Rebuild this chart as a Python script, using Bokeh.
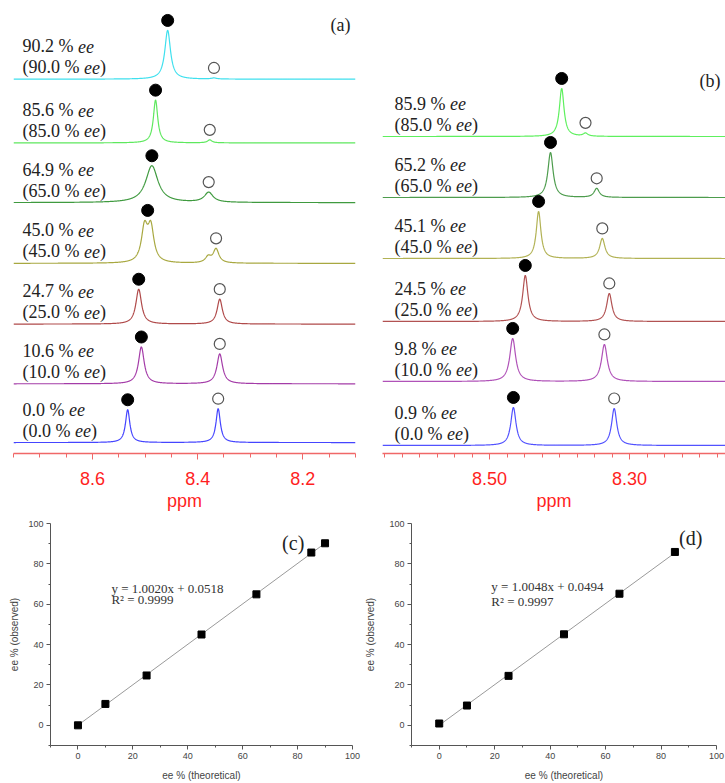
import numpy as np
from bokeh.plotting import figure
from bokeh.layouts import column, row
from bokeh.models import FixedTicker, Range1d, Label, ColumnDataSource, PrintfTickFormatter
from bokeh.embed import file_html
from bokeh.resources import INLINE
from bokeh.core.properties import value

# ---------------- data: panel (a) ----------------
a_observed = ["90.2", "85.6", "64.9", "45.0", "24.7", "10.6", "0.0"]
a_theoretical = ["90.0", "85.0", "65.0", "45.0", "25.0", "10.0", "0.0"]
a_major_ppm = [8.457, 8.480, 8.487, 8.495, 8.512, 8.507, 8.533]
a_major_height = [49, 43, 37, 34, 35, 37, 33]
a_major_width = [0.013, 0.010, 0.028, 0.014, 0.013, 0.013, 0.010]
a_major_split = [0, 0, 0, 0.012, 0, 0, 0]
a_minor_ppm = [8.369, 8.377, 8.379, 8.365, 8.358, 8.358, 8.361]
a_minor_height = [1, 3, 10, 14, 25, 30, 34]
a_minor_width = [0.012, 0.010, 0.020, 0.013, 0.012, 0.013, 0.010]
a_shoulder_ppm = [None, None, None, 8.380, None, None, None]
a_shoulder_height = [0, 0, 0, 6, 0, 0, 0]
a_ticks = [8.6, 8.4, 8.2]

# ---------------- data: panel (b) ----------------
b_observed = ["85.9", "65.2", "45.1", "24.5", "9.8", "0.9"]
b_theoretical = ["85.0", "65.0", "45.0", "25.0", "10.0", "0.0"]
b_major_ppm = [8.397, 8.413, 8.430, 8.449, 8.467, 8.466]
b_major_height = [48, 45, 47, 46, 43, 38]
b_major_width = [0.008, 0.009, 0.008, 0.009, 0.010, 0.009]
b_minor_ppm = [8.363, 8.347, 8.339, 8.329, 8.336, 8.322]
b_minor_height = [3, 9, 20, 28, 37, 37]
b_minor_width = [0.008, 0.009, 0.009, 0.009, 0.010, 0.009]
b_ticks = [8.50, 8.30]

# ---------------- data: panels (c), (d) ----------------
c_theoretical = [0, 10, 25, 45, 65, 85, 90]
c_observed = [0.0, 10.6, 24.7, 45.0, 64.9, 85.6, 90.2]
c_slope, c_intercept, c_r2 = 1.0020, 0.0518, "0.9999"

d_theoretical = [0, 10, 25, 45, 65, 85]
d_observed = [0.9, 9.8, 24.5, 45.1, 65.2, 85.9]
d_slope, d_intercept, d_r2 = 1.0048, 0.0494, "0.9997"

# ---------------- styles / layout ----------------
a_colors = ["#3fe0ee", "#5ee85e", "#3f9a3f", "#a8a840", "#b04a4a", "#a43ca8", "#4545ff"]
b_colors = ["#5ef05e", "#4d9c4d", "#b2b254", "#b25252", "#b052b8", "#5252ff"]
a_baselines = [376, 312, 252, 191, 130, 70, 11]
b_baselines = [317, 256, 195, 132, 72, 8]
LINE1_DY, LINE2_DY, MARK_GAP = 33, 12, 10
SERIF = "Liberation Serif"
SANS = "Liberation Sans"

CHAR_W = {".": 0.25, " ": 0.25, "%": 0.833, "(": 0.333, ")": 0.333}


def text_w(s):
    return sum(CHAR_W.get(ch, 0.5) for ch in s)


def lorentz(x, x0, h, w):
    g = (w / 2.0) ** 2
    return h * g / ((x - x0) ** 2 + g)


def spectrum_panel(width, height, xr, yr, borders, ticks, minor, fmt, baselines, colors,
                   maj_ppm, maj_h, maj_w, min_ppm, min_h, min_w, observed, theoretical,
                   text_xoff, panel_label, label_y, split=None, sh_ppm=None, sh_h=None):
    p = figure(width=width, height=height, x_range=Range1d(*xr), y_range=Range1d(*yr),
               output_backend="svg", toolbar_location=None, y_axis_location=None,
               min_border_left=borders[0], min_border_right=borders[1],
               min_border_top=borders[2], min_border_bottom=borders[3])
    p.outline_line_color = None
    p.grid.visible = False
    ax = p.xaxis[0]
    ax.ticker = FixedTicker(ticks=ticks, minor_ticks=minor)
    ax.formatter = PrintfTickFormatter(format=fmt)
    ax.axis_line_color = "#f06868"
    ax.axis_line_width = 1.3
    ax.major_tick_line_color = "#f06868"
    ax.minor_tick_line_color = "#f06868"
    ax.major_tick_in = 0
    ax.minor_tick_in = 0
    ax.major_tick_out = 6
    ax.minor_tick_out = 4
    ax.major_label_text_color = "#ff1f1f"
    ax.major_label_text_font = SANS
    ax.major_label_text_font_size = "18px"
    ax.major_label_standoff = 12
    ax.axis_label = "ppm"
    ax.axis_label_text_color = "#ff1f1f"
    ax.axis_label_text_font = SANS
    ax.axis_label_text_font_size = "18px"
    ax.axis_label_text_font_style = "normal"
    ax.axis_label_standoff = 3

    xs = np.linspace(xr[0], xr[1], 1500)
    dot_x, dot_y, circ_x, circ_y = [], [], [], []
    for i, base in enumerate(baselines):
        s = split[i] if split else 0
        if s:
            ys = lorentz(xs, maj_ppm[i] + s / 2, maj_h[i], maj_w[i]) + \
                 lorentz(xs, maj_ppm[i] - s / 2, maj_h[i], maj_w[i])
        else:
            ys = lorentz(xs, maj_ppm[i], maj_h[i], maj_w[i])
        ys = ys + lorentz(xs, min_ppm[i], min_h[i], min_w[i])
        if sh_ppm and sh_ppm[i] is not None:
            ys = ys + lorentz(xs, sh_ppm[i], sh_h[i], min_w[i])
        ys = ys + base
        p.line(xs, ys, line_color=colors[i], line_width=1.2)
        near = np.abs(xs - maj_ppm[i]) < 0.02
        dot_x.append(maj_ppm[i])
        dot_y.append(ys[near].max() + MARK_GAP)
        near2 = np.abs(xs - min_ppm[i]) < 0.006
        circ_x.append(min_ppm[i])
        circ_y.append(ys[near2].max() + MARK_GAP)
    p.scatter(dot_x, dot_y, size=12, marker="circle", fill_color="black", line_color="black")
    p.scatter(circ_x, circ_y, size=11, marker="circle", fill_color="white",
              line_color="#555555", line_width=1.2)

    fs = 18
    n = len(baselines)
    src = ColumnDataSource(dict(
        x=[xr[0]] * n,
        y1=[b + LINE1_DY for b in baselines],
        y2=[b + LINE2_DY for b in baselines],
        t1=[f"{o} %" for o in observed],
        t2=[f"({t} %" for t in theoretical],
        e=["ee"] * n,
        c=[")"] * n,
        o0=[text_xoff] * n,
        o1=[text_xoff + text_w(f"{o} % ") * fs for o in observed],
        o2=[text_xoff + text_w(f"({t} % ") * fs for t in theoretical],
        o3=[text_xoff + (text_w(f"({t} % ") + 0.888) * fs for t in theoretical],
    ))
    common = dict(source=src, text_font=value(SERIF), text_font_size=f"{fs}px",
                  text_baseline="middle", text_align="left", text_color="#222222")
    p.text(x="x", y="y1", text="t1", x_offset="o0", **common)
    p.text(x="x", y="y1", text="e", x_offset="o1", text_font_style="italic", **common)
    p.text(x="x", y="y2", text="t2", x_offset="o0", **common)
    p.text(x="x", y="y2", text="e", x_offset="o2", text_font_style="italic", **common)
    p.text(x="x", y="y2", text="c", x_offset="o3", **common)
    p.add_layout(Label(x=xr[1], y=label_y, text=panel_label, x_offset=-5,
                       text_align="right", text_baseline="middle",
                       text_font=SERIF, text_font_size="18px", text_color="#222222"))
    return p


pa = spectrum_panel(362, 516, (8.75, 8.10), (0, 450), (13, 7, 5, 61),
                    a_ticks, [round(8.75 - 0.05 * k, 2) for k in range(14)], "%.1f",
                    a_baselines, a_colors, a_major_ppm, a_major_height, a_major_width,
                    a_minor_ppm, a_minor_height, a_minor_width, a_observed, a_theoretical,
                    9, "(a)", 430, split=a_major_split, sh_ppm=a_shoulder_ppm,
                    sh_h=a_shoulder_height)
pb = spectrum_panel(363, 516, (8.653, 8.163), (0, 448), (20, 0, 5, 63),
                    b_ticks, [round(8.65 - 0.025 * k, 3) for k in range(20)], "%.2f",
                    b_baselines, b_colors, b_major_ppm, b_major_height, b_major_width,
                    b_minor_ppm, b_minor_height, b_minor_width, b_observed, b_theoretical,
                    12, "(b)", 373)


def calib_panel(width, height, borders, theo, obs, slope, intercept, r2, eq_xy, panel_label,
                pl_xy, ylab_standoff):
    p = figure(width=width, height=height, x_range=Range1d(-10, 100), y_range=Range1d(-10, 100),
               output_backend="svg", toolbar_location=None,
               min_border_left=borders[0], min_border_right=borders[1],
               min_border_top=borders[2], min_border_bottom=borders[3])
    p.outline_line_color = None
    p.grid.visible = False
    for ax in (p.xaxis[0], p.yaxis[0]):
        ax.ticker = FixedTicker(ticks=[0, 20, 40, 60, 80, 100], minor_ticks=[-10, 10, 30, 50, 70, 90])
        ax.axis_line_color = "#555555"
        ax.major_tick_line_color = "#555555"
        ax.minor_tick_line_color = "#555555"
        ax.major_tick_in = 0
        ax.minor_tick_in = 0
        ax.major_tick_out = 4
        ax.minor_tick_out = 2
        ax.major_label_text_font = SANS
        ax.major_label_text_font_size = "9px"
        ax.major_label_text_color = "#444444"
        ax.major_label_standoff = 3
        ax.axis_label_text_font = SANS
        ax.axis_label_text_font_size = "10px"
        ax.axis_label_text_font_style = "normal"
        ax.axis_label_text_color = "#444444"
    p.xaxis[0].axis_label = "ee % (theoretical)"
    p.yaxis[0].axis_label = "ee % (observed)"
    p.xaxis[0].axis_label_standoff = 8
    p.yaxis[0].axis_label_standoff = ylab_standoff
    p.yaxis[0].major_label_orientation = "horizontal"

    fx = [min(theo), max(theo)]
    fy = [slope * v + intercept for v in fx]
    p.line(fx, fy, line_color="#9a9a9a", line_width=1)
    p.scatter(theo, obs, marker="square", size=7, fill_color="black", line_color="black")
    p.add_layout(Label(x=eq_xy[0], y=eq_xy[1], text=f"y = {slope:.4f}x + {intercept:.4f}",
                       text_font=SERIF, text_font_size="13px", text_color="#333333",
                       text_baseline="middle"))
    p.add_layout(Label(x=eq_xy[0], y=eq_xy[2], text=f"R\u00b2 = {r2}",
                       text_font=SERIF, text_font_size="13px", text_color="#333333",
                       text_baseline="middle"))
    p.add_layout(Label(x=pl_xy[0], y=pl_xy[1], text=panel_label, text_align="center",
                       text_baseline="middle", text_font=SERIF, text_font_size="20px",
                       text_color="#222222"))
    return p


pc = calib_panel(362, 267, (50, 10, 7, 35), c_theoretical, c_observed, c_slope, c_intercept,
                 c_r2, (12.2, 68.0, 62.2), "(c)", (78.4, 90.5), 5)
pd_ = calib_panel(363, 267, (48, 9, 4, 35), d_theoretical, d_observed, d_slope, d_intercept,
                  d_r2, (18.8, 68.7, 61.5), "(d)", (90.7, 92.9), 10)

layout = column(row(pa, pb), row(pc, pd_))
open("out.html", "w").write(file_html(layout, INLINE))
